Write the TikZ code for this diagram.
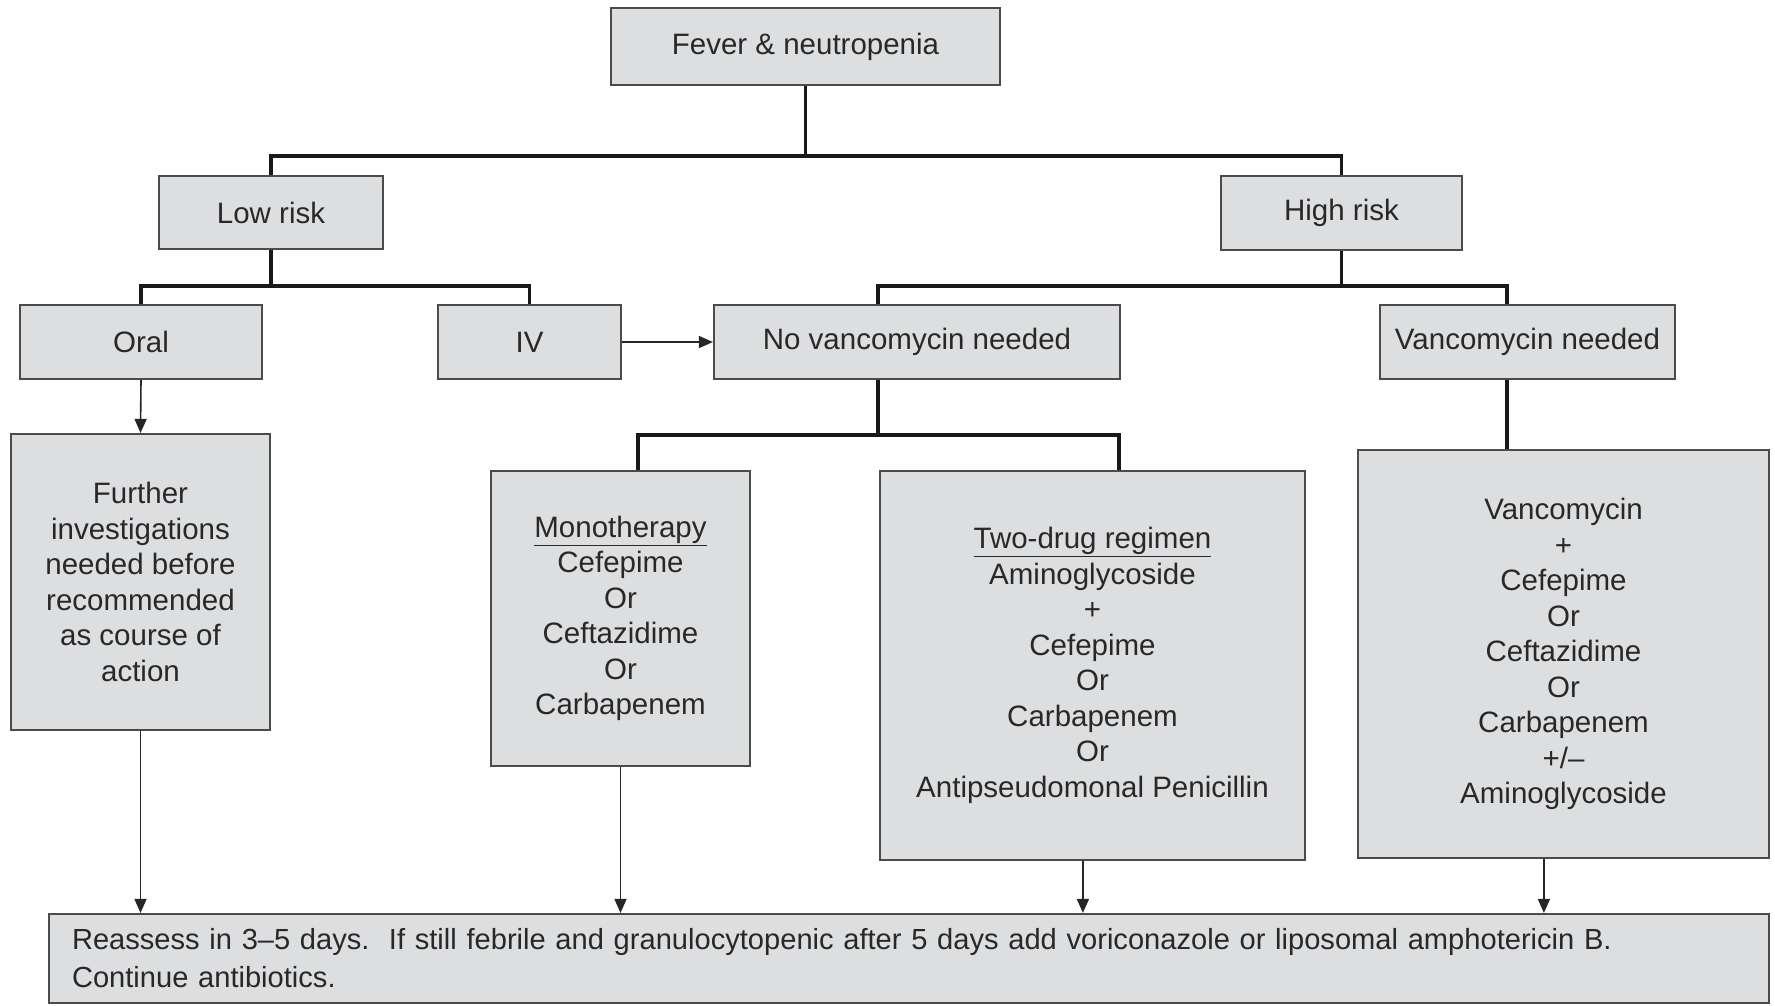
\documentclass[tikz,border=0pt]{standalone}
\usepackage{fontspec}
\setmainfont{Liberation Sans}
\usetikzlibrary{arrows.meta,calc}
\definecolor{boxfill}{RGB}{221,222,224}
\definecolor{boxline}{RGB}{75,75,75}
\definecolor{txt}{RGB}{40,40,40}
\begin{document}
\begin{tikzpicture}[x=1pt,y=-1pt,
  box/.style={draw=boxline, fill=boxfill, line width=2.2pt, inner sep=0pt, align=center, text=txt, font=\fontsize{29.5}{35.5}\selectfont},
  tree/.style={line width=3.5pt, draw=black!90},
  arr/.style={line width=1.6pt, draw=black!85, -{Triangle[length=14pt,width=12pt]}}]
\useasboundingbox (0,0) rectangle (1775,1005);
\fill[white] (0,0) rectangle (1775,1005);

% nodes
\node[box, minimum width=389pt, minimum height=77pt] (fever) at (805.5,46.5) {Fever \& neutropenia};
\node[box, minimum width=224pt, minimum height=73pt] (low) at (271,212.5) {Low risk};
\node[box, minimum width=241pt, minimum height=74pt] (high) at (1341.5,213) {High risk};
\node[box, minimum width=242pt, minimum height=74pt] (oral) at (141,342) {Oral};
\node[box, minimum width=183pt, minimum height=74pt] (iv) at (529.5,342) {IV};
\node[box, minimum width=406pt, minimum height=74pt] (novanc) at (917,342) {No vancomycin needed};
\node[box, minimum width=295pt, minimum height=74pt] (vancn) at (1527.5,342) {Vancomycin needed};
\node[box, minimum width=259pt, minimum height=296pt] (further) at (140.5,582) {Further\\investigations\\needed before\\recommended\\as course of\\action};
\node[box, minimum width=259pt, minimum height=295pt] (mono) at (620.5,618.5) {\underline{Monotherapy}\\Cefepime\\Or\\Ceftazidime\\Or\\Carbapenem};
\node[box, minimum width=425pt, minimum height=389pt] (two) at (1092.5,665.5) {\underline{Two-drug regimen}\\Aminoglycoside\\+\\Cefepime\\Or\\Carbapenem\\Or\\Antipseudomonal Penicillin};
\node[box, minimum width=411pt, minimum height=408pt] (vanc) at (1563.5,654) {Vancomycin\\+\\Cefepime\\Or\\Ceftazidime\\Or\\Carbapenem\\+/–\\Aminoglycoside};
\node[box, minimum width=1720pt, minimum height=89pt, text width=1674pt, align=left, font=\fontsize{29.1}{38}\selectfont] (bottom) at (909,958.5) {Reassess in 3–5 days.\ \ If still febrile and granulocytopenic after 5 days add voriconazole or liposomal amphotericin B.\\Continue antibiotics.};

% helper coordinates
\coordinate (t1) at (0,156);
\coordinate (t2) at (0,286);
\coordinate (t3) at (0,435);
\coordinate (nvN) at ($(novanc.north west)+(165,0)$);
\coordinate (nvS) at ($(novanc.south west)+(165,0)$);
\coordinate (vnN) at ($(vancn.north west)+(128,0)$);
\coordinate (vnS) at ($(vancn.south west)+(128,0)$);
\coordinate (moN) at ($(mono.north west)+(148,0)$);
\coordinate (twN) at ($(two.north west)+(240,0)$);
\coordinate (twS) at ($(two.south west)+(204,0)$);
\coordinate (vaS) at ($(vanc.south west)+(187,0)$);

% tree connectors
\draw[tree] (fever.south) -- (fever.south |- t1) -| (low.north);
\draw[tree] (fever.south |- t1) -| (high.north);
\draw[tree] (low.south) -- (low.south |- t2) -| (oral.north);
\draw[tree] (low.south |- t2) -| (iv.north);
\draw[tree] (high.south) -- (high.south |- t2) -| (nvN);
\draw[tree] (high.south |- t2) -| (vnN);
\draw[tree] (nvS) -- (nvS |- t3) -| (moN);
\draw[tree] (nvS |- t3) -| (twN);
\draw[tree] (vnS) -- (vnS |- vanc.north);

% arrows
\draw[arr] (oral.south) -- (further.north);
\draw[arr] (iv.east) -- (novanc.west);
\draw[arr] (further.south) -- (further.south |- bottom.north);
\draw[arr] (mono.south) -- (mono.south |- bottom.north);
\draw[arr] (twS) -- (twS |- bottom.north);
\draw[arr] (vaS) -- (vaS |- bottom.north);
\end{tikzpicture}
\end{document}
